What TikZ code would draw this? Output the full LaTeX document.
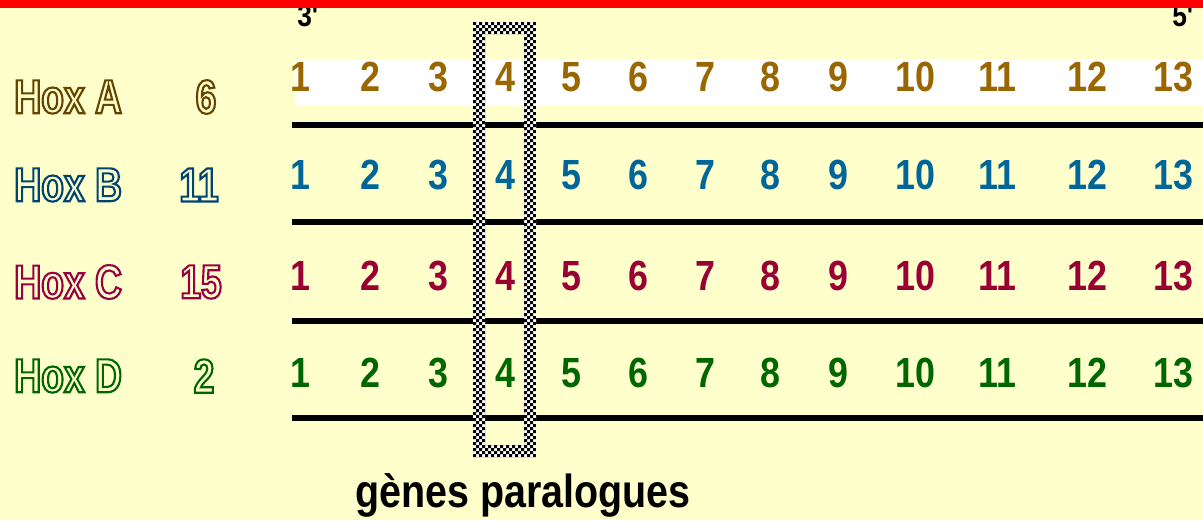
\documentclass[tikz,border=0pt]{standalone}
\usepackage{fontspec}
\setmainfont{Liberation Sans}
\newfontfamily\digitfont[FakeStretch=0.85]{Liberation Sans}
\newfontfamily\hoxfont[FakeStretch=0.78]{Liberation Sans}
\definecolor{fond}{HTML}{FFFFCC}
\definecolor{hoxa}{HTML}{996600}
\definecolor{hoxb}{HTML}{006699}
\definecolor{hoxc}{HTML}{990033}
\definecolor{hoxd}{HTML}{006600}
\definecolor{hoxaL}{HTML}{664400}
\definecolor{hoxbL}{HTML}{004470}
\definecolor{hoxcL}{HTML}{990044}
\definecolor{hoxdL}{HTML}{006600}
\newcommand\hollow[1]{\special{pdf:literal direct 1 Tr 1.5 w}#1\special{pdf:literal direct 0 Tr}}
\tikzset{
  num/.style={font=\digitfont\bfseries\fontsize{30}{30}\selectfont,inner sep=0pt},
  hoxlab/.style={font=\hoxfont\bfseries\fontsize{34}{34}\selectfont,inner sep=0pt},
  chromo/.style={line width=4.2pt}
}

\begin{document}
\begin{tikzpicture}[x=0.025cm,y=-0.025cm]
  \useasboundingbox (0,0) rectangle (1203,520);
  \fill[fond] (0,0) rectangle (1203,520);
  \fill[white] (295,59) rectangle (1203,106);
  \node[font=\digitfont\bfseries\fontsize{22}{22}\selectfont,anchor=base west,inner sep=0pt] (end3) at (297,26) {3'};
  \node[font=\digitfont\bfseries\fontsize{22}{22}\selectfont,anchor=base west,inner sep=0pt] (end5) at (1172,26) {5'};
  \fill[red] (0,0) rectangle (1203,8);
  \draw[chromo] (292,125) -- (1203,125);
  \draw[chromo] (292,222) -- (1203,222);
  \draw[chromo] (292,321) -- (1203,321);
  \draw[chromo] (292,418) -- (1203,418);
  \foreach \g/\y/\c in {a/77/hoxa,b/175/hoxb,c/276/hoxc,d/373/hoxd}
    \foreach \n/\x in {1/300,2/370,3/438,4/505,5/571,6/638,7/705,8/770,9/838,10/915,11/997,12/1087,13/1173}
      \node[num,text=\c] (\g\n) at (\x,\y) {\n};
  \node[hoxlab,text=hoxaL,anchor=west] (labA) at (14,97) {\hollow{Hox A}};
  \node[hoxlab,text=hoxbL,anchor=west] (labB) at (14,185) {\hollow{Hox B}};
  \node[hoxlab,text=hoxcL,anchor=west] (labC) at (14,282) {\hollow{Hox C}};
  \node[hoxlab,text=hoxdL,anchor=west] (labD) at (14,376) {\hollow{Hox D}};
  \node[hoxlab,text=hoxaL] (nA) at (206,97) {\hollow{6}};
  \node[hoxlab,text=hoxbL] (nB) at (199,185) {\hollow{11}};
  \node[hoxlab,text=hoxcL] (nC) at (201,282) {\hollow{15}};
  \node[hoxlab,text=hoxdL] (nD) at (204,376) {\hollow{2}};
  \fill[white,even odd rule] (473,22) rectangle (536,457) (485,34) rectangle (524,445);
  \begin{scope}[even odd rule]
    \clip (473,22) rectangle (536,457) (485,34) rectangle (524,445);
    \fill \foreach \i in {0,...,20} {\foreach \j in {0,2,...,146} {({473+3*\i},{22+3*(\j+mod(\i,2))}) rectangle ++(3,3)}};
  \end{scope}
  \node[font=\digitfont\bfseries\fontsize{33}{33}\selectfont,anchor=base,inner sep=0pt] (titre) at (523,507) {gènes paralogues};
\end{tikzpicture}
\end{document}
